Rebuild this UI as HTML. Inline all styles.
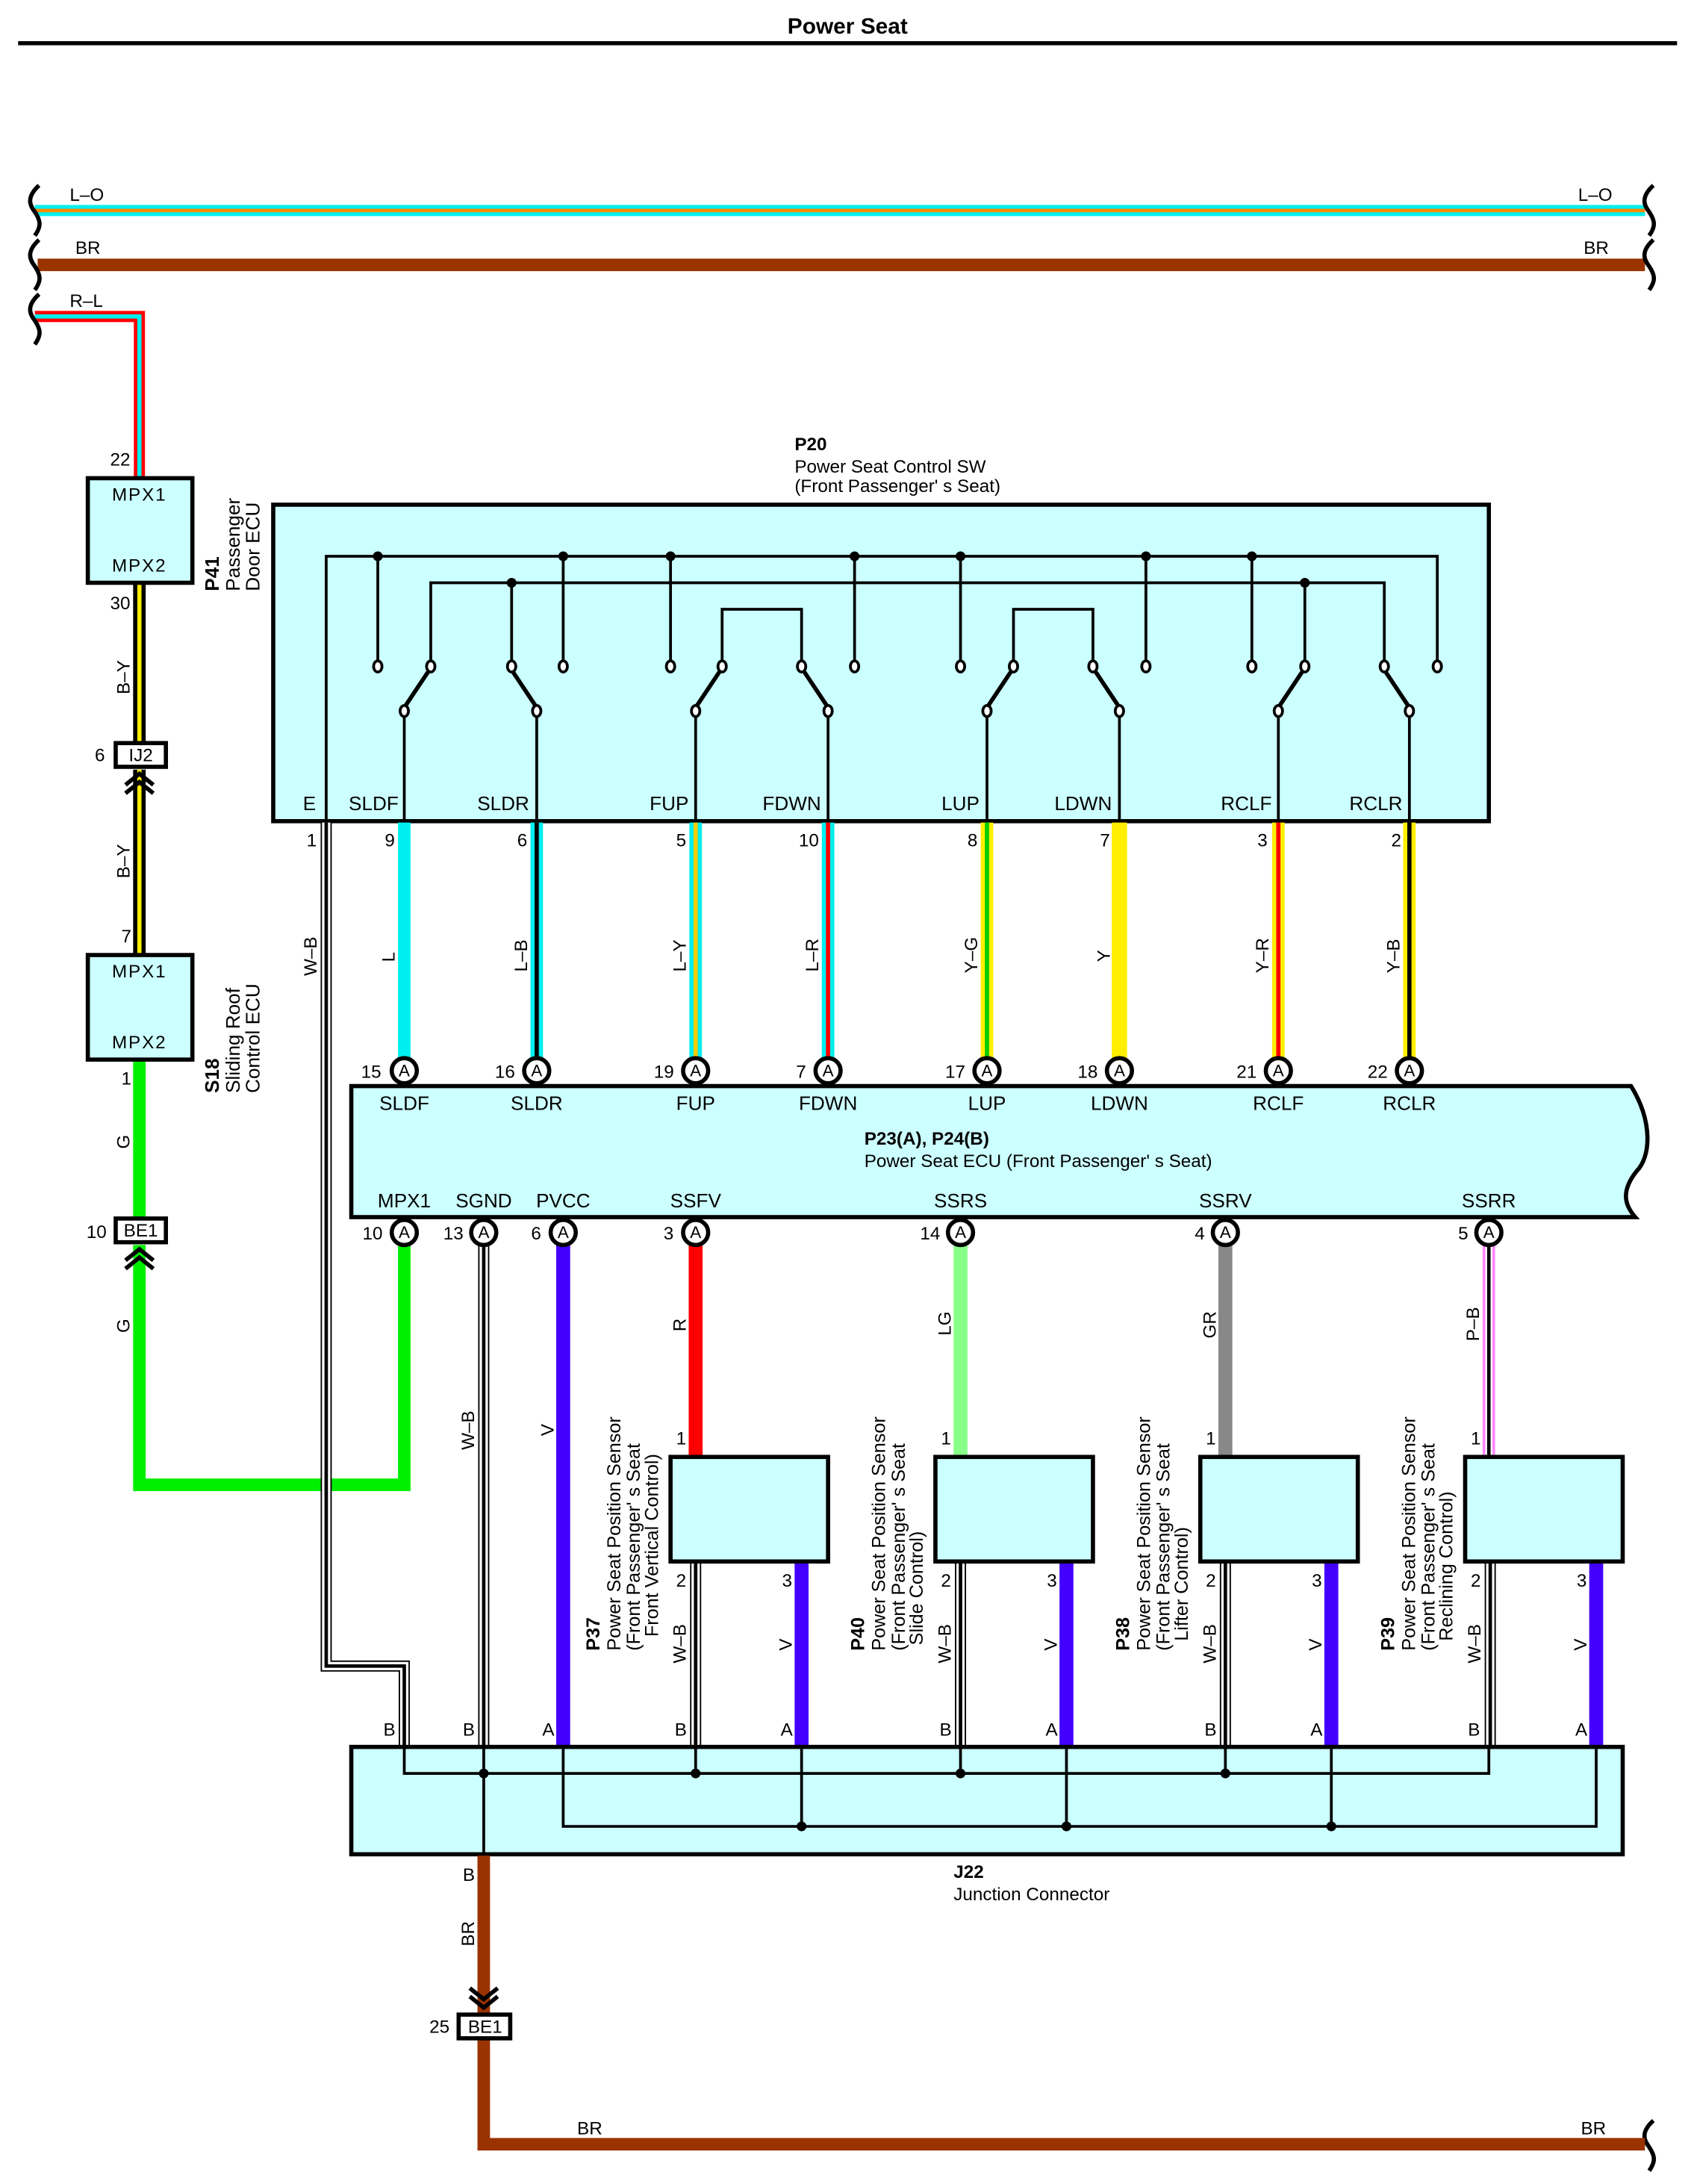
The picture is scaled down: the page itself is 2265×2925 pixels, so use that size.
<!DOCTYPE html>
<html><head><meta charset="utf-8"><style>
html,body{margin:0;padding:0;background:#fff}
svg{display:block}
text{font-family:"Liberation Sans",Arial,sans-serif;fill:#000}
</style></head><body>
<svg xmlns="http://www.w3.org/2000/svg" width="2265" height="2925" viewBox="0 0 1213 1566.5" preserveAspectRatio="none">
<rect width="1213" height="1567" fill="#fff"/>
<text x="608" y="24" font-size="16" font-weight="bold" text-anchor="middle">Power Seat</text>
<line x1="13" y1="31" x2="1203" y2="31" stroke="#000" stroke-width="3"/>

<!-- top buses -->
<line x1="25" y1="151" x2="1180" y2="151" stroke="#00eeee" stroke-width="8"/>
<line x1="25" y1="151" x2="1180" y2="151" stroke="#ff8800" stroke-width="2.5"/>
<line x1="27" y1="190" x2="1180" y2="190" stroke="#993300" stroke-width="9"/>
<path d="M25 227 H100 V342" fill="none" stroke="#ff0000" stroke-width="8"/>
<path d="M25 227 H100 V342" fill="none" stroke="#00eeee" stroke-width="3"/>
<text x="50" y="144" font-size="13">L–O</text>
<text x="1132" y="144" font-size="13">L–O</text>
<text x="54" y="182" font-size="13">BR</text>
<text x="1136" y="182" font-size="13">BR</text>
<text x="50" y="220" font-size="13">R–L</text>
<g fill="none" stroke="#000" stroke-width="3">
<path d="M28 133 C18 142 22 148 25 152 C29 158 30 162 25 169"/>
<path d="M28 172 C18 181 22 187 25 191 C29 197 30 201 25 208"/>
<path d="M28 211 C18 220 22 226 25 230 C29 236 30 240 25 247"/>
<path d="M1186 133 C1176 142 1180 148 1183 152 C1187 158 1188 162 1183 169"/>
<path d="M1186 172 C1176 181 1180 187 1183 191 C1187 197 1188 201 1183 208"/>
<path d="M1186 1521 C1176 1530 1180 1536 1183 1540 C1187 1546 1188 1550 1183 1557"/>
</g>

<!-- left B-Y wires -->
<line x1="100" y1="418" x2="100" y2="532" stroke="#000" stroke-width="9"/>
<line x1="100" y1="418" x2="100" y2="532" stroke="#ffee00" stroke-width="3"/>
<line x1="100" y1="552" x2="100" y2="684" stroke="#000" stroke-width="9"/>
<line x1="100" y1="552" x2="100" y2="684" stroke="#ffee00" stroke-width="3"/>
<!-- G wire -->
<path d="M100 760 V873 M100 893 V1065 H290 V893" fill="none" stroke="#00ee00" stroke-width="9"/>
<g fill="none" stroke="#000" stroke-width="3">
<path d="M90 563 L100 555 L110 563 M90 569 L100 561 L110 569"/>
<path d="M90 904 L100 896 L110 904 M90 910 L100 902 L110 910"/>
</g>
<!-- boxes P41/S18 -->
<rect x="63" y="343" width="75" height="75" fill="#ccffff" stroke="#000" stroke-width="3"/>
<rect x="63" y="685" width="75" height="75" fill="#ccffff" stroke="#000" stroke-width="3"/>
<text x="100" y="359" font-size="13" text-anchor="middle" letter-spacing="1">MPX1</text>
<text x="100" y="410" font-size="13" text-anchor="middle" letter-spacing="1">MPX2</text>
<text x="100" y="701" font-size="13" text-anchor="middle" letter-spacing="1">MPX1</text>
<text x="100" y="752" font-size="13" text-anchor="middle" letter-spacing="1">MPX2</text>
<rect x="83" y="533" width="36" height="17" fill="#fff" stroke="#000" stroke-width="3"/>
<text x="101" y="546" font-size="13" text-anchor="middle">IJ2</text>
<rect x="83" y="874" width="36" height="17" fill="#fff" stroke="#000" stroke-width="3"/>
<text x="101" y="887" font-size="13" text-anchor="middle">BE1</text>
<text x="79" y="334" font-size="13">22</text>
<text x="79" y="437" font-size="13">30</text>
<text x="68" y="546" font-size="13">6</text>
<text x="87" y="676" font-size="13">7</text>
<text x="87" y="778" font-size="13">1</text>
<text x="62" y="888" font-size="13">10</text>
<g font-size="13">
<text transform="translate(93,498) rotate(-90)">B–Y</text>
<text transform="translate(93,630) rotate(-90)">B–Y</text>
<text transform="translate(93,824) rotate(-90)">G</text>
<text transform="translate(93,956) rotate(-90)">G</text>
</g>
<g font-size="14">
<text transform="translate(157,424) rotate(-90)" font-weight="bold">P41</text>
<text transform="translate(172,424) rotate(-90)">Passenger</text>
<text transform="translate(186,424) rotate(-90)">Door ECU</text>
<text transform="translate(157,784) rotate(-90)" font-weight="bold">S18</text>
<text transform="translate(172,784) rotate(-90)">Sliding Roof</text>
<text transform="translate(186,784) rotate(-90)">Control ECU</text>
</g>

<!-- P20 -->
<text x="570" y="323" font-size="13" font-weight="bold">P20</text>
<text x="570" y="339" font-size="13">Power Seat Control SW</text>
<text x="570" y="353" font-size="13">(Front Passenger'  s Seat)</text>
<rect x="196" y="362" width="872" height="227" fill="#ccffff" stroke="#000" stroke-width="3"/>
<g fill="none" stroke="#000" stroke-width="2">
<path d="M234 589 V399 H1031 V474"/>
<path d="M309 474 V418 H993 V474"/>
<path d="M271 399 V474 M404 399 V474 M481 399 V474 M613 399 V474 M689 399 V474 M822 399 V474 M898 399 V474"/>
<path d="M367 418 V474 M936 418 V474"/>
<path d="M518 474 V437 H575 V474 M727 474 V437 H784 V474"/>
<path d="M290 589 V514 M385 589 V514 M499 589 V514 M594 589 V514 M708 589 V514 M803 589 V514 M917 589 V514 M1011 589 V514"/>
</g>
<g fill="none" stroke="#000" stroke-width="3">
<path d="M291 506 L307 482 M384 506 L368 482 M500 506 L516 482 M593 506 L577 482 M709 506 L725 482 M802 506 L786 482 M918 506 L934 482 M1010 506 L994 482"/>
</g>
<g fill="#fff" stroke="#000" stroke-width="2">
<ellipse cx="271" cy="478" rx="3" ry="4"/><ellipse cx="309" cy="478" rx="3" ry="4"/>
<ellipse cx="367" cy="478" rx="3" ry="4"/><ellipse cx="404" cy="478" rx="3" ry="4"/>
<ellipse cx="481" cy="478" rx="3" ry="4"/><ellipse cx="518" cy="478" rx="3" ry="4"/>
<ellipse cx="575" cy="478" rx="3" ry="4"/><ellipse cx="613" cy="478" rx="3" ry="4"/>
<ellipse cx="689" cy="478" rx="3" ry="4"/><ellipse cx="727" cy="478" rx="3" ry="4"/>
<ellipse cx="784" cy="478" rx="3" ry="4"/><ellipse cx="822" cy="478" rx="3" ry="4"/>
<ellipse cx="898" cy="478" rx="3" ry="4"/><ellipse cx="936" cy="478" rx="3" ry="4"/>
<ellipse cx="993" cy="478" rx="3" ry="4"/><ellipse cx="1031" cy="478" rx="3" ry="4"/>
<ellipse cx="290" cy="510" rx="3" ry="4"/><ellipse cx="385" cy="510" rx="3" ry="4"/>
<ellipse cx="499" cy="510" rx="3" ry="4"/><ellipse cx="594" cy="510" rx="3" ry="4"/>
<ellipse cx="708" cy="510" rx="3" ry="4"/><ellipse cx="803" cy="510" rx="3" ry="4"/>
<ellipse cx="917" cy="510" rx="3" ry="4"/><ellipse cx="1011" cy="510" rx="3" ry="4"/>
</g>
<g fill="#000">
<circle cx="271" cy="399" r="3.5"/><circle cx="404" cy="399" r="3.5"/><circle cx="481" cy="399" r="3.5"/>
<circle cx="613" cy="399" r="3.5"/><circle cx="689" cy="399" r="3.5"/><circle cx="822" cy="399" r="3.5"/>
<circle cx="898" cy="399" r="3.5"/><circle cx="367" cy="418" r="3.5"/><circle cx="936" cy="418" r="3.5"/>
</g>
<g font-size="14" text-anchor="middle">
<text x="222" y="581">E</text><text x="268" y="581">SLDF</text><text x="361" y="581">SLDR</text>
<text x="480" y="581">FUP</text><text x="568" y="581">FDWN</text><text x="689" y="581">LUP</text>
<text x="777" y="581">LDWN</text><text x="894" y="581">RCLF</text><text x="987" y="581">RCLR</text>
</g>

<!-- E W-B wire -->
<path d="M234 590 V1195 H290 V1272" fill="none" stroke="#000" stroke-width="8"/>
<path d="M234 590 V1195 H290 V1272" fill="none" stroke="#fff" stroke-width="6"/>
<path d="M234 590 V1195 H290 V1272" fill="none" stroke="#000" stroke-width="2.5"/>

<!-- wires P20 -> P23 -->
<g stroke-width="9">
<line x1="290" y1="590" x2="290" y2="760" stroke="#00eeee"/>
<line x1="385" y1="590" x2="385" y2="760" stroke="#00eeee"/>
<line x1="499" y1="590" x2="499" y2="760" stroke="#00eeee"/>
<line x1="594" y1="590" x2="594" y2="760" stroke="#00eeee"/>
<line x1="708" y1="590" x2="708" y2="760" stroke="#ffee00"/>
<line x1="803" y1="590" x2="803" y2="760" stroke="#ffee00" stroke-width="11"/>
<line x1="917" y1="590" x2="917" y2="760" stroke="#ffee00"/>
<line x1="1011" y1="590" x2="1011" y2="760" stroke="#ffee00"/>
</g>
<g stroke-width="3">
<line x1="385" y1="590" x2="385" y2="760" stroke="#000"/>
<line x1="499" y1="590" x2="499" y2="760" stroke="#ffcc00"/>
<line x1="594" y1="590" x2="594" y2="760" stroke="#ff0000"/>
<line x1="708" y1="590" x2="708" y2="760" stroke="#00cc00"/>
<line x1="917" y1="590" x2="917" y2="760" stroke="#ff0000"/>
<line x1="1011" y1="590" x2="1011" y2="760" stroke="#000"/>
</g>
<g font-size="13">
<text x="220" y="607">1</text><text x="276" y="607">9</text><text x="371" y="607">6</text>
<text x="485" y="607">5</text><text x="573" y="607">10</text><text x="694" y="607">8</text>
<text x="789" y="607">7</text><text x="902" y="607">3</text><text x="998" y="607">2</text>
<text transform="translate(283,690) rotate(-90)">L</text>
<text transform="translate(378,697) rotate(-90)">L–B</text>
<text transform="translate(492,697) rotate(-90)">L–Y</text>
<text transform="translate(587,697) rotate(-90)">L–R</text>
<text transform="translate(701,698) rotate(-90)">Y–G</text>
<text transform="translate(796,690) rotate(-90)">Y</text>
<text transform="translate(910,698) rotate(-90)">Y–R</text>
<text transform="translate(1004,698) rotate(-90)">Y–B</text>
<text transform="translate(227,700) rotate(-90)">W–B</text>
</g>

<!-- P23 box -->
<path d="M252 779 H1170 C1186 805 1184 830 1174 840 C1162 855 1166 865 1173 873 H252 Z" fill="#ccffff" stroke="#000" stroke-width="3"/>
<g font-size="14" text-anchor="middle">
<text x="290" y="796">SLDF</text><text x="385" y="796">SLDR</text><text x="499" y="796">FUP</text>
<text x="594" y="796">FDWN</text><text x="708" y="796">LUP</text><text x="803" y="796">LDWN</text>
<text x="917" y="796">RCLF</text><text x="1011" y="796">RCLR</text>
<text x="290" y="866">MPX1</text><text x="347" y="866">SGND</text><text x="404" y="866">PVCC</text>
<text x="499" y="866">SSFV</text><text x="689" y="866">SSRS</text><text x="879" y="866">SSRV</text>
<text x="1068" y="866">SSRR</text>
</g>
<text x="620" y="821" font-size="13" font-weight="bold">P23(A), P24(B)</text>
<text x="620" y="837" font-size="13">Power Seat ECU (Front Passenger'  s Seat)</text>

<!-- lower wires -->
<path d="M347 893 V1330" fill="none" stroke="#000" stroke-width="8"/>
<path d="M347 893 V1330" fill="none" stroke="#fff" stroke-width="6"/>
<path d="M347 893 V1330" fill="none" stroke="#000" stroke-width="2.5"/>
<line x1="404" y1="893" x2="404" y2="1253" stroke="#4400ff" stroke-width="10"/>
<line x1="499" y1="893" x2="499" y2="1045" stroke="#ff0000" stroke-width="10"/>
<line x1="689" y1="893" x2="689" y2="1045" stroke="#88ff88" stroke-width="10"/>
<line x1="879" y1="893" x2="879" y2="1045" stroke="#888888" stroke-width="10"/>
<line x1="1068" y1="893" x2="1068" y2="1045" stroke="#ff88ff" stroke-width="9"/>
<line x1="1068" y1="893" x2="1068" y2="1045" stroke="#fff" stroke-width="5"/>
<line x1="1068" y1="893" x2="1068" y2="1045" stroke="#000" stroke-width="2.5"/>
<g font-size="13">
<text x="260" y="889">10</text><text x="318" y="889">13</text><text x="381" y="889">6</text>
<text x="476" y="889">3</text><text x="660" y="889">14</text><text x="857" y="889">4</text>
<text x="1046" y="889">5</text>
<text x="259" y="773">15</text><text x="355" y="773">16</text><text x="469" y="773">19</text>
<text x="571" y="773">7</text><text x="678" y="773">17</text><text x="773" y="773">18</text>
<text x="887" y="773">21</text><text x="981" y="773">22</text>
<text transform="translate(340,1040) rotate(-90)">W–B</text>
<text transform="translate(397,1030) rotate(-90)">V</text>
<text transform="translate(492,955) rotate(-90)">R</text>
<text transform="translate(682,958) rotate(-90)">LG</text>
<text transform="translate(872,960) rotate(-90)">GR</text>
<text transform="translate(1061,962) rotate(-90)">P–B</text>
</g>
<!-- connector circles -->
<g>
<g fill="#fff" stroke="#000" stroke-width="3">
<circle cx="290" cy="768" r="9"/><circle cx="385" cy="768" r="9"/><circle cx="499" cy="768" r="9"/>
<circle cx="594" cy="768" r="9"/><circle cx="708" cy="768" r="9"/><circle cx="803" cy="768" r="9"/>
<circle cx="917" cy="768" r="9"/><circle cx="1011" cy="768" r="9"/>
<circle cx="290" cy="884" r="9"/><circle cx="347" cy="884" r="9"/><circle cx="404" cy="884" r="9"/>
<circle cx="499" cy="884" r="9"/><circle cx="689" cy="884" r="9"/><circle cx="879" cy="884" r="9"/>
<circle cx="1068" cy="884" r="9"/>
</g>
<g font-size="12" text-anchor="middle">
<text x="290" y="772">A</text><text x="385" y="772">A</text><text x="499" y="772">A</text>
<text x="594" y="772">A</text><text x="708" y="772">A</text><text x="803" y="772">A</text>
<text x="917" y="772">A</text><text x="1011" y="772">A</text>
<text x="290" y="888">A</text><text x="347" y="888">A</text><text x="404" y="888">A</text>
<text x="499" y="888">A</text><text x="689" y="888">A</text><text x="879" y="888">A</text>
<text x="1068" y="888">A</text>
</g>
</g>

<!-- sensors -->
<g id="s1">
<path d="M499 1120 V1272" fill="none" stroke="#000" stroke-width="8"/>
<path d="M499 1120 V1272" fill="none" stroke="#fff" stroke-width="6"/>
<path d="M499 1120 V1272" fill="none" stroke="#000" stroke-width="2.5"/>
<line x1="575" y1="1120" x2="575" y2="1253" stroke="#4400ff" stroke-width="10"/>
<rect x="481" y="1045" width="113" height="75" fill="#ccffff" stroke="#000" stroke-width="3"/>
<text x="485" y="1036" font-size="13">1</text>
<text x="485" y="1138" font-size="13">2</text>
<text x="561" y="1138" font-size="13">3</text>
<text transform="translate(492,1193) rotate(-90)" font-size="13">W–B</text>
<text transform="translate(568,1184) rotate(-90)" font-size="13">V</text>
</g>
<use href="#s1" x="190"/>
<use href="#s1" x="380"/>
<use href="#s1" x="570"/>
<g font-size="13.5">
<text transform="translate(430,1184) rotate(-90)" font-weight="bold">P37</text>
<text transform="translate(445,1184) rotate(-90)">Power Seat Position Sensor</text>
<text transform="translate(459,1184) rotate(-90)">(Front Passenger'  s Seat</text>
<text transform="translate(472,1174) rotate(-90)">Front Vertical Control)</text>
<text transform="translate(620,1184) rotate(-90)" font-weight="bold">P40</text>
<text transform="translate(635,1184) rotate(-90)">Power Seat Position Sensor</text>
<text transform="translate(649,1184) rotate(-90)">(Front Passenger'  s Seat</text>
<text transform="translate(662,1180) rotate(-90)">Slide Control)</text>
<text transform="translate(810,1184) rotate(-90)" font-weight="bold">P38</text>
<text transform="translate(825,1184) rotate(-90)">Power Seat Position Sensor</text>
<text transform="translate(839,1184) rotate(-90)">(Front Passenger'  s Seat</text>
<text transform="translate(852,1177) rotate(-90)">Lifter Control)</text>
<text transform="translate(1000,1184) rotate(-90)" font-weight="bold">P39</text>
<text transform="translate(1015,1184) rotate(-90)">Power Seat Position Sensor</text>
<text transform="translate(1029,1184) rotate(-90)">(Front Passenger'  s Seat</text>
<text transform="translate(1042,1177) rotate(-90)">Reclining Control)</text>
</g>

<!-- J22 -->
<rect x="252" y="1253" width="912" height="77" fill="#ccffff" stroke="#000" stroke-width="3"/>
<g fill="none" stroke="#000" stroke-width="2">
<path d="M290 1253 V1272 H1068 V1253"/>
<path d="M347 1253 V1330 M499 1253 V1272 M689 1253 V1272 M879 1253 V1272"/>
<path d="M404 1253 V1310 H1145 V1253 M575 1253 V1310 M765 1253 V1310 M955 1253 V1310"/>
</g>
<g fill="#000">
<circle cx="347" cy="1272" r="3.5"/><circle cx="499" cy="1272" r="3.5"/><circle cx="689" cy="1272" r="3.5"/><circle cx="879" cy="1272" r="3.5"/>
<circle cx="575" cy="1310" r="3.5"/><circle cx="765" cy="1310" r="3.5"/><circle cx="955" cy="1310" r="3.5"/>
</g>
<g font-size="13">
<text x="275" y="1245">B</text><text x="332" y="1245">B</text><text x="389" y="1245">A</text>
<text x="484" y="1245">B</text><text x="560" y="1245">A</text>
<text x="674" y="1245">B</text><text x="750" y="1245">A</text>
<text x="864" y="1245">B</text><text x="940" y="1245">A</text>
<text x="1053" y="1245">B</text><text x="1130" y="1245">A</text>
<text x="332" y="1349">B</text>
</g>
<text x="684" y="1347" font-size="13" font-weight="bold">J22</text>
<text x="684" y="1363" font-size="13">Junction Connector</text>

<!-- bottom BR -->
<path d="M347 1331 V1445 M347 1463 V1538 H1180" fill="none" stroke="#993300" stroke-width="9"/>
<path d="M337 1426 L347 1434 L357 1426 M337 1432 L347 1440 L357 1432" fill="none" stroke="#000" stroke-width="3"/>
<rect x="329" y="1445" width="37" height="17" fill="#fff" stroke="#000" stroke-width="3"/>
<text x="348" y="1458" font-size="13" text-anchor="middle">BE1</text>
<text x="308" y="1458" font-size="13">25</text>
<text transform="translate(340,1396) rotate(-90)" font-size="13">BR</text>
<text x="414" y="1531" font-size="13">BR</text>
<text x="1134" y="1531" font-size="13">BR</text>
</svg>
</body></html>
